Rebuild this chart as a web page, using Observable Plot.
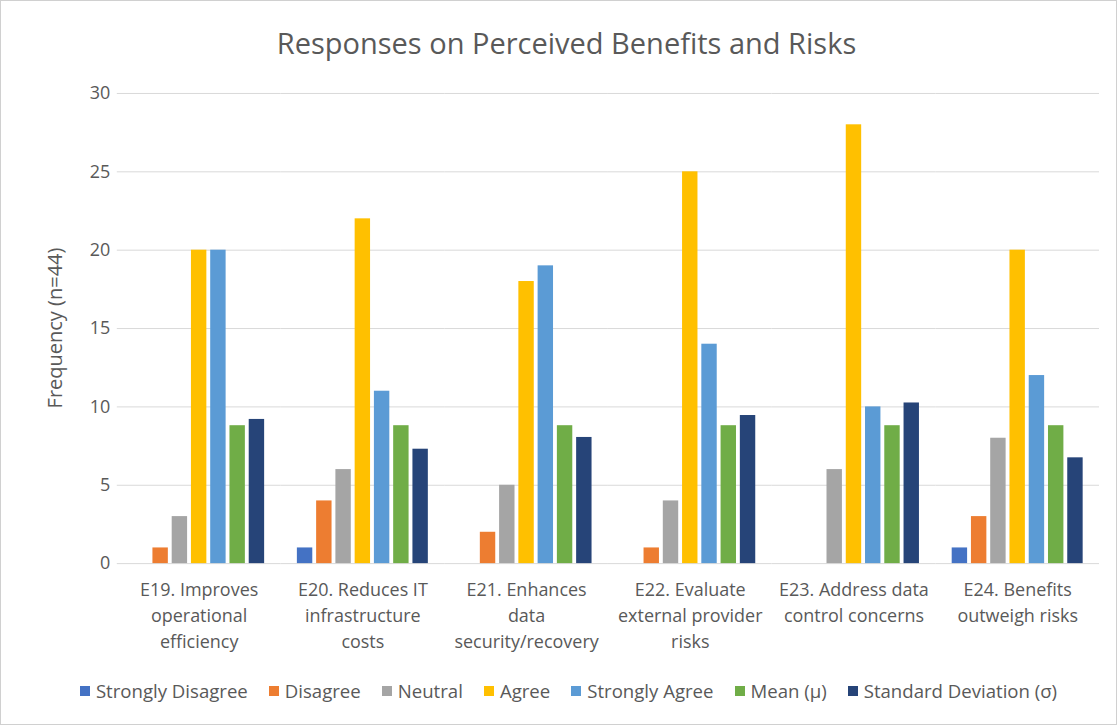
<!DOCTYPE html>
<html><head><meta charset="utf-8">
<script src="https://cdn.jsdelivr.net/npm/d3@7"></script>
<script src="https://cdn.jsdelivr.net/npm/@observablehq/plot@0.6"></script>
<style>
body{margin:0;background:#fff;font-family:"Open Sans",sans-serif;}
#wrap{position:relative;width:1115px;height:723px;border:1px solid #d0d0d0;overflow:hidden;background:#fff;}
#title{position:absolute;top:22px;left:8px;width:100%;text-align:center;font-size:29px;color:#595959;}
#chart{position:absolute;top:70px;left:0;}
#ylabel{position:absolute;left:53px;top:327px;transform:translate(-50%,-50%) rotate(-90deg);white-space:nowrap;font-size:20px;color:#595959;}
#legend{position:absolute;top:677px;left:10px;width:100%;display:flex;justify-content:center;gap:21px;font-size:18.6px;color:#595959;}
.item{display:flex;align-items:center;gap:6px}
.sw{width:10px;height:10px;display:inline-block}
</style></head>
<body><div id="wrap"><div id="title">Responses on Perceived Benefits and Risks</div><div id="chart"></div><div id="ylabel">Frequency (n=44)</div><div id="legend"></div></div>
<script>
const items = ["E19","E20","E21","E22","E23","E24"];
const itemLabels = [
  "E19. Improves\noperational\nefficiency",
  "E20. Reduces IT\ninfrastructure\ncosts",
  "E21. Enhances\ndata\nsecurity/recovery",
  "E22. Evaluate\nexternal provider\nrisks",
  "E23. Address data\ncontrol concerns",
  "E24. Benefits\noutweigh risks"
];
const series = ["Strongly Disagree","Disagree","Neutral","Agree","Strongly Agree","Mean (μ)","Standard Deviation (σ)"];
const colors = ["#4472C4","#ED7D31","#A5A5A5","#FFC000","#5B9BD5","#70AD47","#264478"];
const stronglyDisagree = [0,1,0,0,0,1];
const disagree = [1,4,2,1,0,3];
const neutral = [3,6,5,4,6,8];
const agree = [20,22,18,25,28,20];
const stronglyAgree = [20,11,19,14,10,12];
const mean = [8.8,8.8,8.8,8.8,8.8,8.8];
const stdDev = [9.2,7.3,8.05,9.45,10.25,6.75];
const yTicks = [0,5,10,15,20,25,30];

const seriesValues = [stronglyDisagree,disagree,neutral,agree,stronglyAgree,mean,stdDev];
const data = [];
items.forEach((it,i)=>series.forEach((s,j)=>data.push({item:it,series:s,value:seriesValues[j][i]})));
const labelMap = Object.fromEntries(items.map((d,i)=>[d,itemLabels[i]]));

const chart = Plot.plot({
  width:1117, height:590,
  marginTop:22, marginBottom:97, marginLeft:115, marginRight:17,
  style:{fontFamily:"Open Sans, sans-serif", fontSize:"18px", color:"#595959", background:"transparent", overflow:"visible"},
  fx:{domain:items, padding:0, label:null},
  x:{domain:series, paddingInner:0.2, paddingOuter:0.85, round:false, axis:null},
  y:{domain:[0,30]},
  color:{domain:series, range:colors},
  marks:[
    Plot.gridY(yTicks,{stroke:"#d9d9d9", strokeOpacity:1, strokeWidth:1}),
    Plot.axisY(yTicks,{tickSize:0, tickPadding:7, fontSize:18, label:null}),
    Plot.barY(data,{fx:"item", x:"series", y:"value", fill:"series"}),
    Plot.axisFx({anchor:"bottom", tickSize:0, tickPadding:14, lineHeight:1.45, fontSize:18, tickFormat:d=>labelMap[d], label:null})
  ]
});
document.getElementById("chart").appendChild(chart);

const leg = document.getElementById("legend");
series.forEach((s,i)=>{
  const el = document.createElement("div"); el.className="item";
  el.innerHTML = `<span class="sw" style="background:${colors[i]}"></span><span>${s}</span>`;
  leg.appendChild(el);
});
</script>
</body></html>
